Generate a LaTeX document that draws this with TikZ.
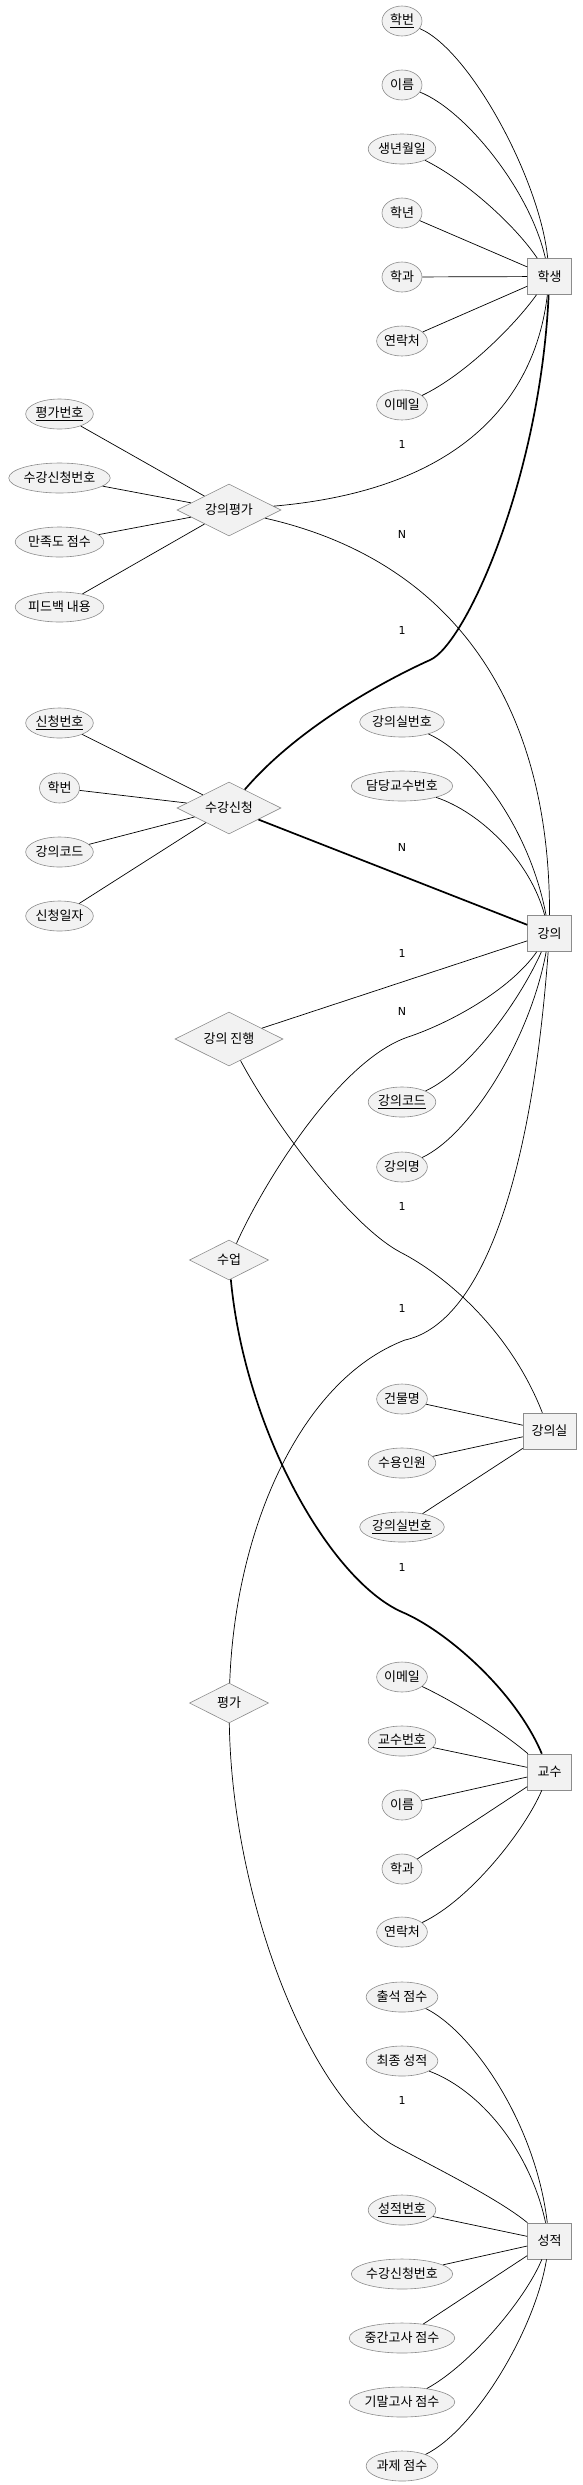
\documentclass[tikz,border=0pt]{standalone}
\usepackage{fontspec}
\setmainfont{Noto Sans CJK KR}
\newfontfamily\cardfont{DejaVu Sans}
\usetikzlibrary{shapes.geometric}
\definecolor{nodefill}{HTML}{F2F2F2}
\definecolor{nodeline}{HTML}{8C8C8C}
\newcommand{\keyattr}[1]{\underline{#1}}

\begin{document}
\begin{tikzpicture}[x=1pt,y=-1pt,line width=0.7pt,
  entity/.style={rectangle,draw=nodeline,fill=nodefill,line width=0.6pt,minimum width=44pt,minimum height=36pt,inner xsep=8.5pt,font=\fontsize{13}{15}\selectfont},
  attr/.style={ellipse,draw=nodeline,fill=nodefill,line width=0.6pt,minimum width=40pt,minimum height=30pt,inner xsep=0pt,inner ysep=1pt,font=\fontsize{13}{15}\selectfont},
  rel/.style={diamond,draw=nodeline,fill=nodefill,line width=0.6pt,shape aspect=2,minimum width=104pt,minimum height=52pt,inner sep=0pt,font=\fontsize{13}{15}\selectfont},
  small rel/.style={rel,minimum width=79pt,minimum height=40pt},
  card/.style={font=\cardfont\fontsize{11}{13}\selectfont,inner sep=0pt},
  heavy/.style={line width=1.7pt}]
\useasboundingbox (0,0) rectangle (582,2485);

\node[entity] (student) at (549.5,276.5) {학생};
\node[entity] (lecture) at (549.5,933.5) {강의};
\node[entity] (room) at (549.5,1431) {강의실};
\node[entity] (prof) at (549.5,1772) {교수};
\node[entity] (grade) at (549.5,2241) {성적};

\node[rel] (review) at (229,510) {강의평가};
\node[rel] (enroll) at (229,808) {수강신청};
\node[rel,minimum width=108pt,minimum height=54pt] (conduct) at (229,1039) {강의 진행};
\node[small rel] (teach) at (229,1260) {수업};
\node[small rel] (evaluate) at (229,1703) {평가};

\node[attr] (sid) at (402,21) {\keyattr{학번}};
\node[attr] (sname) at (402,85) {이름};
\node[attr] (sbirth) at (402,149) {생년월일};
\node[attr] (syear) at (402,213) {학년};
\node[attr] (sdept) at (402,277) {학과};
\node[attr] (sphone) at (402,341) {연락처};
\node[attr] (smail) at (402,405) {이메일};

\node[attr] (rid) at (59.5,414) {\keyattr{평가번호}};
\node[attr] (renr) at (59.5,478) {수강신청번호};
\node[attr] (rscore) at (59.5,542) {만족도 점수};
\node[attr] (rfb) at (59.5,607) {피드백 내용};

\node[attr] (eid) at (59.5,723) {\keyattr{신청번호}};
\node[attr] (esid) at (59.5,788) {학번};
\node[attr] (ecode) at (59.5,852) {강의코드};
\node[attr] (edate) at (59.5,916) {신청일자};

\node[attr] (lroom) at (402,722) {강의실번호};
\node[attr] (lprof) at (402,786) {담당교수번호};
\node[attr] (lcode) at (402,1102) {\keyattr{강의코드}};
\node[attr] (lname) at (402,1167) {강의명};

\node[attr] (rmbld) at (402,1399) {건물명};
\node[attr] (rmcap) at (402,1463) {수용인원};
\node[attr] (rmid) at (402,1527) {\keyattr{강의실번호}};

\node[attr] (pmail) at (402,1677) {이메일};
\node[attr] (pid) at (402,1741) {\keyattr{교수번호}};
\node[attr] (pname) at (402,1805) {이름};
\node[attr] (pdept) at (402,1869) {학과};
\node[attr] (pphone) at (402,1932) {연락처};

\node[attr] (gatt) at (402,1997) {출석 점수};
\node[attr] (gfinal) at (402,2061) {최종 성적};
\node[attr] (gid) at (402,2210) {\keyattr{성적번호}};
\node[attr] (genr) at (402,2274) {수강신청번호};
\node[attr] (gmid) at (402,2338) {중간고사 점수};
\node[attr] (gend) at (402,2402) {기말고사 점수};
\node[attr] (ghw) at (402,2466) {과제 점수};

\node[card] (c1) at (402,444) {1};
\node[card] (c2) at (402,534) {N};
\node[card] (c3) at (402,630) {1};
\node[card] (c4) at (402,847) {N};
\node[card] (c5) at (402,953) {1};
\node[card] (c6) at (402,1011) {N};
\node[card] (c7) at (402,1206) {1};
\node[card] (c8) at (402,1308) {1};
\node[card] (c9) at (402,1567) {1};
\node[card] (c10) at (402,2100) {1};

\draw (sid) .. controls (470,50) and (540,180) .. (student);
\draw (sname) .. controls (465,110) and (530,190) .. (student);
\draw (sbirth) .. controls (465,180) and (515,225) .. (student);
\draw (syear) -- (student);
\draw (sdept) -- (student);
\draw (sphone) -- (student);
\draw (smail) .. controls (465,375) and (515,325) .. (student);

\draw (rid) -- (review);
\draw (renr) -- (review);
\draw (rscore) -- (review);
\draw (rfb) -- (review);
\draw (review) .. controls (460,490) and (535,400) .. (student);
\draw (review) .. controls (450,560) and (550,700) .. (lecture);

\draw (eid) -- (enroll);
\draw (esid) -- (enroll);
\draw (ecode) -- (enroll);
\draw (edate) -- (enroll);
\draw[heavy] (enroll) .. controls (300,725) and (390,678) .. (430,660) .. controls (465,645) and (540,480) .. (student);
\draw[heavy] (enroll) -- (lecture);

\draw (lroom) .. controls (475,755) and (530,830) .. (lecture);
\draw (lprof) .. controls (480,812) and (530,860) .. (lecture);
\draw (lcode) .. controls (470,1070) and (520,1000) .. (lecture);
\draw (lname) .. controls (470,1135) and (530,1040) .. (lecture);

\draw (conduct) -- (lecture);
\draw (conduct) .. controls (275,1125) and (350,1225) .. (400,1252) .. controls (445,1275) and (510,1330) .. (room);

\draw (teach) .. controls (265,1180) and (340,1060) .. (408,1037) .. controls (450,1023) and (510,990) .. (lecture);
\draw[heavy] (teach) .. controls (245,1430) and (330,1580) .. (402,1612) .. controls (445,1630) and (515,1690) .. (prof);

\draw (evaluate) .. controls (235,1530) and (300,1380) .. (405,1340) .. controls (475,1325) and (530,1200) .. (lecture);
\draw (evaluate) .. controls (232,1900) and (310,2100) .. (395,2146) .. controls (440,2170) and (500,2200) .. (grade);

\draw (rmbld) -- (room);
\draw (rmcap) -- (room);
\draw (rmid) -- (room);

\draw (pmail) .. controls (455,1702) and (500,1730) .. (prof);
\draw (pid) -- (prof);
\draw (pname) -- (prof);
\draw (pdept) -- (prof);
\draw (pphone) .. controls (470,1900) and (525,1830) .. (prof);

\draw (gatt) .. controls (470,2030) and (535,2120) .. (grade);
\draw (gfinal) .. controls (480,2090) and (530,2150) .. (grade);
\draw (gid) -- (grade);
\draw (genr) -- (grade);
\draw (gmid) -- (grade);
\draw (gend) .. controls (470,2365) and (525,2300) .. (grade);
\draw (ghw) .. controls (475,2430) and (535,2330) .. (grade);

\end{tikzpicture}
\end{document}
